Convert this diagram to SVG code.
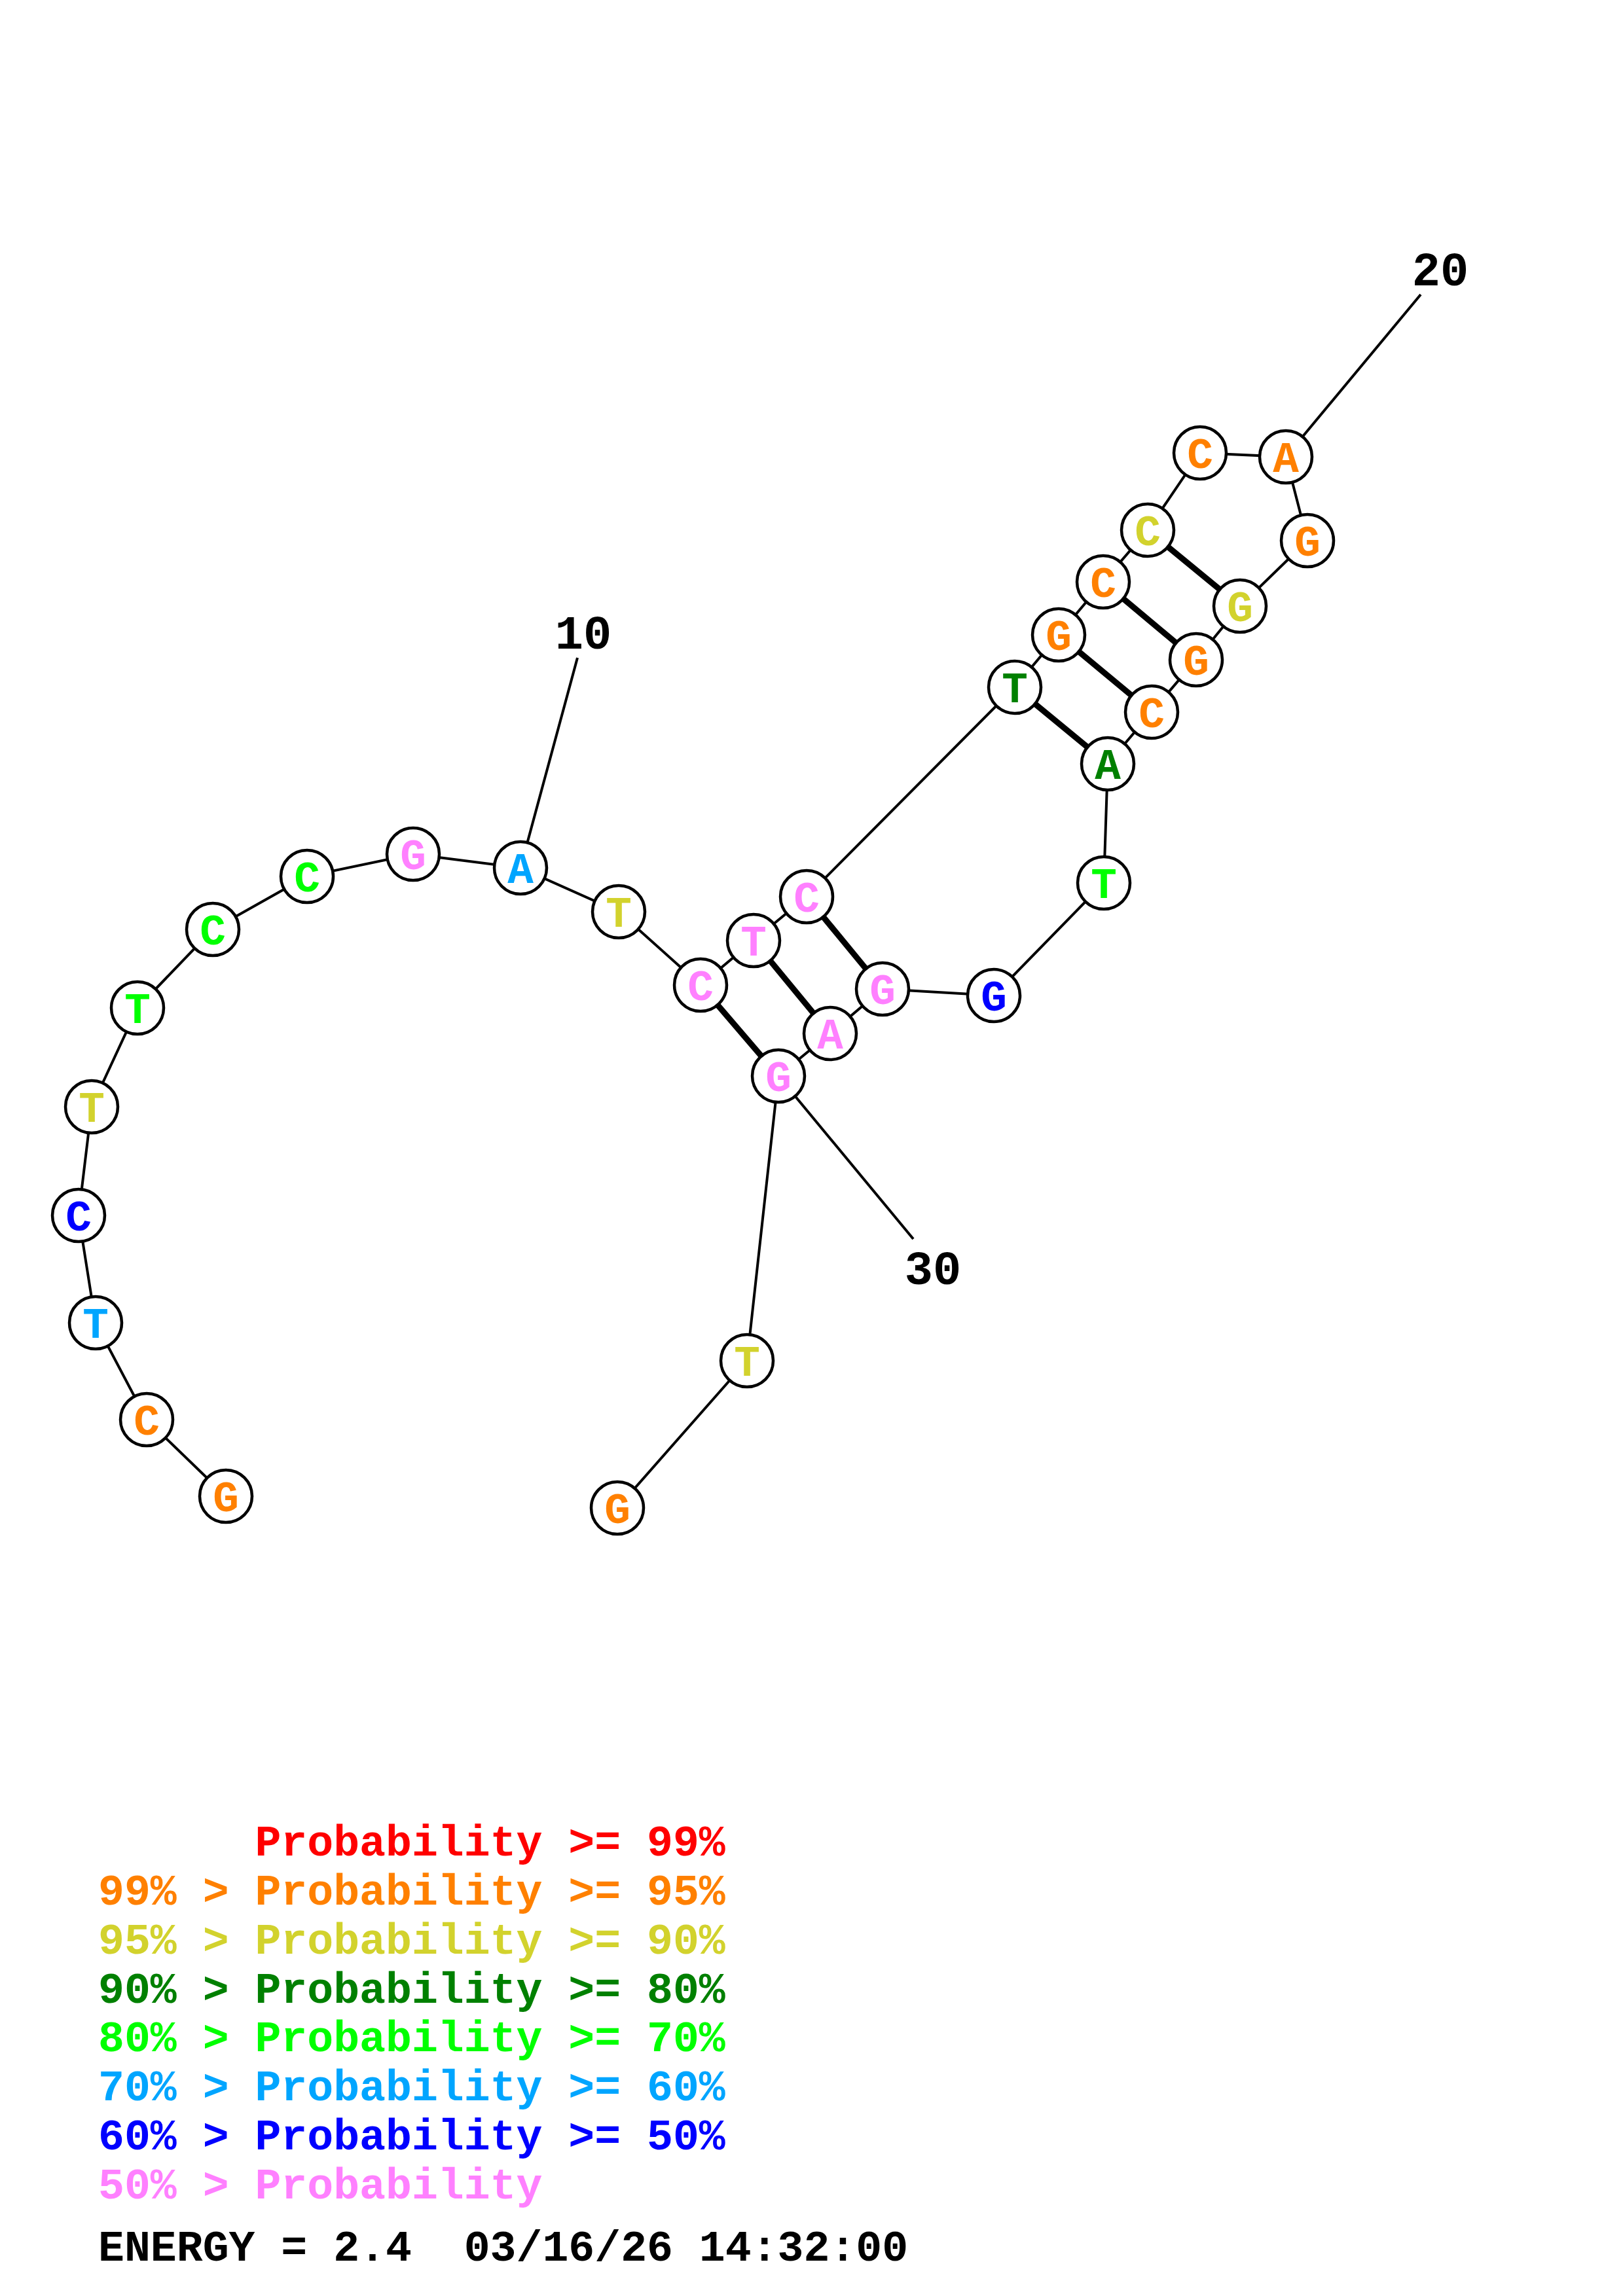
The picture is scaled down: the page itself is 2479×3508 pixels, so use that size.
<svg xmlns="http://www.w3.org/2000/svg" width="2479" height="3508" viewBox="0 0 2479 3508">
<style>
.bb{stroke:#000;stroke-width:4;fill:none}
.pr{stroke:#000;stroke-width:9;fill:none}
.nc{fill:#fff;stroke:#000;stroke-width:4.5}
.nt{font-family:"Liberation Mono",monospace;font-weight:bold;font-size:66px;text-anchor:middle}
.lb{font-family:"Liberation Mono",monospace;font-weight:bold;font-size:72px;text-anchor:middle;fill:#000}
.lg{font-family:"Liberation Mono",monospace;font-weight:bold;font-size:66.5px;white-space:pre}
.o{fill:#ff8000}.y{fill:#d2d22d}.dg{fill:#008000}.g{fill:#00ff00}.c{fill:#00a5ff}.b{fill:#0000ff}.p{fill:#ff80ff}.r{fill:#ff0000}
</style>
<rect width="2479" height="3508" fill="#fff"/>
<g id="connectors">
<polyline class="bb" points="345,2286 224,2169 146,2021 120,1857 140,1691 210,1540 325,1420 469,1339 631,1305 795,1326 945,1393 1070,1505 1151,1437 1232,1370 1550,1050 1617,970 1685,889 1753,810 1833,692 1964,698 1997,826 1894,926 1827,1008 1759,1088 1692,1167 1686,1349 1518,1521 1348,1511 1268,1579 1189,1644 1141,2079 943,2304"/>
<line class="pr" x1="1070" y1="1505" x2="1189" y2="1644"/>
<line class="pr" x1="1151" y1="1437" x2="1268" y2="1579"/>
<line class="pr" x1="1232" y1="1370" x2="1348" y2="1511"/>
<line class="pr" x1="1550" y1="1050" x2="1692" y2="1167"/>
<line class="pr" x1="1617" y1="970" x2="1759" y2="1088"/>
<line class="pr" x1="1685" y1="889" x2="1827" y2="1008"/>
<line class="pr" x1="1753" y1="810" x2="1894" y2="926"/>
<line class="bb" x1="795" y1="1326" x2="882" y2="1005"/>
<line class="bb" x1="1964" y1="698" x2="2170" y2="450"/>
<line class="bb" x1="1189" y1="1644" x2="1395" y2="1893"/>
</g>
<g id="labels">
<text class="lb" x="891" y="991">10</text>
<text class="lb" x="2200" y="436">20</text>
<text class="lb" x="1425" y="1962">30</text>
</g>
<g id="n1"><circle class="nc" cx="345" cy="2286" r="40"/><text class="nt o" x="345" y="2309">G</text></g>
<g id="n2"><circle class="nc" cx="224" cy="2169" r="40"/><text class="nt o" x="224" y="2192">C</text></g>
<g id="n3"><circle class="nc" cx="146" cy="2021" r="40"/><text class="nt c" x="146" y="2044">T</text></g>
<g id="n4"><circle class="nc" cx="120" cy="1857" r="40"/><text class="nt b" x="120" y="1880">C</text></g>
<g id="n5"><circle class="nc" cx="140" cy="1691" r="40"/><text class="nt y" x="140" y="1714">T</text></g>
<g id="n6"><circle class="nc" cx="210" cy="1540" r="40"/><text class="nt g" x="210" y="1563">T</text></g>
<g id="n7"><circle class="nc" cx="325" cy="1420" r="40"/><text class="nt g" x="325" y="1443">C</text></g>
<g id="n8"><circle class="nc" cx="469" cy="1339" r="40"/><text class="nt g" x="469" y="1362">C</text></g>
<g id="n9"><circle class="nc" cx="631" cy="1305" r="40"/><text class="nt p" x="631" y="1328">G</text></g>
<g id="n10"><circle class="nc" cx="795" cy="1326" r="40"/><text class="nt c" x="795" y="1349">A</text></g>
<g id="n11"><circle class="nc" cx="945" cy="1393" r="40"/><text class="nt y" x="945" y="1416">T</text></g>
<g id="n12"><circle class="nc" cx="1070" cy="1505" r="40"/><text class="nt p" x="1070" y="1528">C</text></g>
<g id="n13"><circle class="nc" cx="1151" cy="1437" r="40"/><text class="nt p" x="1151" y="1460">T</text></g>
<g id="n14"><circle class="nc" cx="1232" cy="1370" r="40"/><text class="nt p" x="1232" y="1393">C</text></g>
<g id="n15"><circle class="nc" cx="1550" cy="1050" r="40"/><text class="nt dg" x="1550" y="1073">T</text></g>
<g id="n16"><circle class="nc" cx="1617" cy="970" r="40"/><text class="nt o" x="1617" y="993">G</text></g>
<g id="n17"><circle class="nc" cx="1685" cy="889" r="40"/><text class="nt o" x="1685" y="912">C</text></g>
<g id="n18"><circle class="nc" cx="1753" cy="810" r="40"/><text class="nt y" x="1753" y="833">C</text></g>
<g id="n19"><circle class="nc" cx="1833" cy="692" r="40"/><text class="nt o" x="1833" y="715">C</text></g>
<g id="n20"><circle class="nc" cx="1964" cy="698" r="40"/><text class="nt o" x="1964" y="721">A</text></g>
<g id="n21"><circle class="nc" cx="1997" cy="826" r="40"/><text class="nt o" x="1997" y="849">G</text></g>
<g id="n22"><circle class="nc" cx="1894" cy="926" r="40"/><text class="nt y" x="1894" y="949">G</text></g>
<g id="n23"><circle class="nc" cx="1827" cy="1008" r="40"/><text class="nt o" x="1827" y="1031">G</text></g>
<g id="n24"><circle class="nc" cx="1759" cy="1088" r="40"/><text class="nt o" x="1759" y="1111">C</text></g>
<g id="n25"><circle class="nc" cx="1692" cy="1167" r="40"/><text class="nt dg" x="1692" y="1190">A</text></g>
<g id="n26"><circle class="nc" cx="1686" cy="1349" r="40"/><text class="nt g" x="1686" y="1372">T</text></g>
<g id="n27"><circle class="nc" cx="1518" cy="1521" r="40"/><text class="nt b" x="1518" y="1544">G</text></g>
<g id="n28"><circle class="nc" cx="1348" cy="1511" r="40"/><text class="nt p" x="1348" y="1534">G</text></g>
<g id="n29"><circle class="nc" cx="1268" cy="1579" r="40"/><text class="nt p" x="1268" y="1602">A</text></g>
<g id="n30"><circle class="nc" cx="1189" cy="1644" r="40"/><text class="nt p" x="1189" y="1667">G</text></g>
<g id="n31"><circle class="nc" cx="1141" cy="2079" r="40"/><text class="nt y" x="1141" y="2102">T</text></g>
<g id="n32"><circle class="nc" cx="943" cy="2304" r="40"/><text class="nt o" x="943" y="2327">G</text></g>
<g id="legend">
<text class="lg r" xml:space="preserve" x="150" y="2835">      Probability &gt;= 99%</text>
<text class="lg o" xml:space="preserve" x="150" y="2910">99% &gt; Probability &gt;= 95%</text>
<text class="lg y" xml:space="preserve" x="150" y="2985">95% &gt; Probability &gt;= 90%</text>
<text class="lg dg" xml:space="preserve" x="150" y="3060">90% &gt; Probability &gt;= 80%</text>
<text class="lg g" xml:space="preserve" x="150" y="3134">80% &gt; Probability &gt;= 70%</text>
<text class="lg c" xml:space="preserve" x="150" y="3209">70% &gt; Probability &gt;= 60%</text>
<text class="lg b" xml:space="preserve" x="150" y="3284">60% &gt; Probability &gt;= 50%</text>
<text class="lg p" xml:space="preserve" x="150" y="3359">50% &gt; Probability</text>
<text class="lg" xml:space="preserve" x="150" y="3454" fill="#000">ENERGY = 2.4  03/16/26 14:32:00</text>
</g>
</svg>
